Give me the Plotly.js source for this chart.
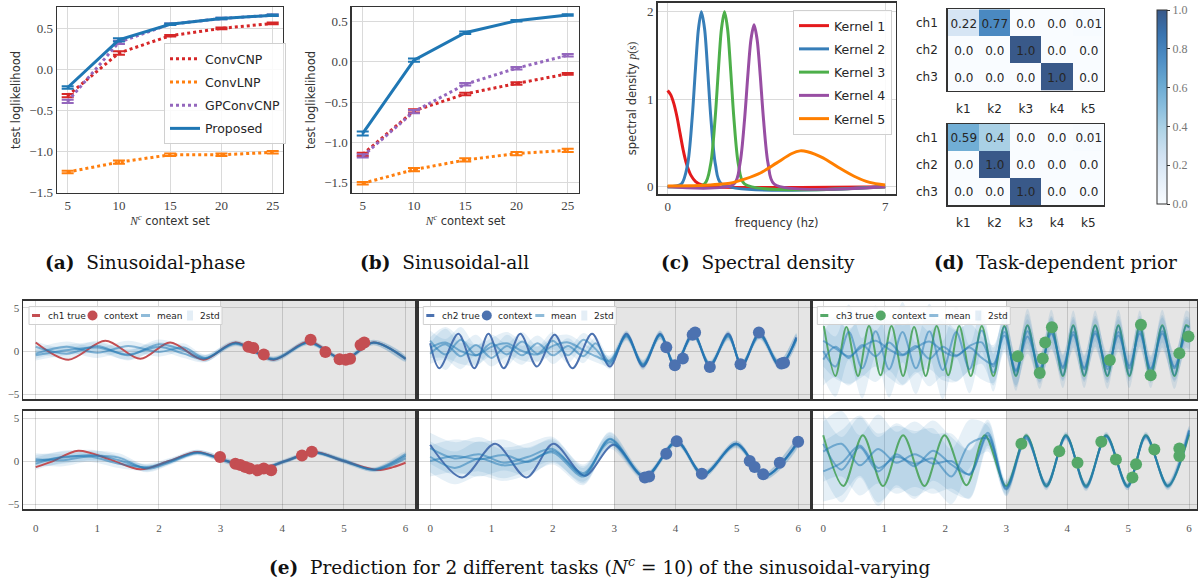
<!DOCTYPE html>
<html><head><meta charset="utf-8">
<script src="https://cdn.plot.ly/plotly-3.0.1.min.js"></script>
<style>html,body{margin:0;padding:0;background:#fff}#chart{width:1198px;height:579px}</style>
</head><body><div id="chart"></div>
<script>
// ================= DATA =================
// (a) Sinusoidal-phase and (b) Sinusoidal-all : test loglikelihood vs context size
const contextSizes = [5, 10, 15, 20, 25];
const methodNames = ['ConvCNP', 'ConvLNP', 'GPConvCNP', 'Proposed'];
const phaseConvCNP   = [-0.32, 0.20, 0.41, 0.50, 0.56];
const phaseConvLNP   = [-1.25, -1.13, -1.04, -1.04, -1.01];
const phaseGPConvCNP = [-0.39, 0.33, 0.55, 0.62, 0.66];
const phaseProposed  = [-0.22, 0.36, 0.55, 0.62, 0.66];
const phaseErrConvCNP   = [0.02, 0.02, 0.01, 0.01, 0.01];
const phaseErrConvLNP   = [0.015, 0.02, 0.015, 0.015, 0.015];
const phaseErrGPConvCNP = [0.02, 0.02, 0.01, 0.01, 0.01];
const phaseErrProposed  = [0.015, 0.02, 0.01, 0.01, 0.01];
const allConvCNP   = [-1.15, -0.61, -0.40, -0.27, -0.15];
const allConvLNP   = [-1.51, -1.34, -1.22, -1.14, -1.10];
const allGPConvCNP = [-1.17, -0.62, -0.28, -0.08, 0.08];
const allProposed  = [-0.89, 0.02, 0.36, 0.51, 0.58];
const allErrConvCNP   = [0.02, 0.02, 0.015, 0.015, 0.01];
const allErrConvLNP   = [0.015, 0.02, 0.02, 0.02, 0.02];
const allErrGPConvCNP = [0.02, 0.02, 0.015, 0.015, 0.015];
const allErrProposed  = [0.025, 0.02, 0.015, 0.01, 0.01];

// (c) Spectral density of the 5 kernels
const kernelNames = ['Kernel 1', 'Kernel 2', 'Kernel 3', 'Kernel 4', 'Kernel 5'];
const k1Freq = [0, 0.1, 0.2, 0.3, 0.4, 0.5, 0.6, 0.75, 0.9, 1.1, 1.4, 7];
const k1Dens = [1.10, 1.05, 0.95, 0.80, 0.61, 0.42, 0.27, 0.13, 0.06, 0.02, 0, 0];
const k2Freq = [0, 0.44, 0.64, 0.79, 0.89, 0.99, 1.085, 1.19, 1.29, 1.39, 1.54, 1.74, 7];
const k2Dens = [0, 0.03, 0.25, 0.79, 1.32, 1.80, 2.0, 1.80, 1.32, 0.79, 0.25, 0.03, 0];
const k3Freq = [0, 1.18, 1.38, 1.53, 1.63, 1.73, 1.83, 1.93, 2.03, 2.13, 2.28, 2.48, 7];
const k3Dens = [0, 0.03, 0.25, 0.79, 1.32, 1.80, 2.0, 1.80, 1.32, 0.79, 0.25, 0.03, 0];
const k4Freq = [0, 2.13, 2.33, 2.48, 2.58, 2.68, 2.78, 2.88, 2.98, 3.08, 3.23, 3.43, 7];
const k4Dens = [0, 0.03, 0.27, 0.79, 1.27, 1.68, 1.85, 1.68, 1.27, 0.79, 0.27, 0.03, 0];
const k5Freq = [0, 1, 2, 2.5, 3, 3.5, 4, 4.26, 4.5, 5, 5.5, 6, 6.5, 7];
const k5Dens = [0.01, 0.015, 0.04, 0.09, 0.16, 0.27, 0.38, 0.41, 0.40, 0.33, 0.22, 0.12, 0.05, 0.02];

// (d) Task-dependent prior (channel x kernel weights)
const channels = ['ch1', 'ch2', 'ch3'];
const kernels = ['k1', 'k2', 'k3', 'k4', 'k5'];
const priorTask1 = [[0.22, 0.77, 0.0, 0.0, 0.01], [0.0, 0.0, 1.0, 0.0, 0.0], [0.0, 0.0, 0.0, 1.0, 0.0]];
const priorTask2 = [[0.59, 0.4, 0.0, 0.0, 0.01], [0.0, 1.0, 0.0, 0.0, 0.0], [0.0, 0.0, 1.0, 0.0, 0.0]];

// (e) Predictions; context region starts at t = 3
const contextStart = 3;
const legendLabels = ['true', 'context', 'mean', '2std'];
// task 1, ch1
const t1c1TrueX = [0, 0.53, 1.13, 1.70, 2.18, 2.72, 3.24, 3.86, 4.43, 5.00, 5.48, 6.0];
const t1c1TrueY = [1.0, -1.0, 1.2, -0.9, 1.0, -1.0, 1.0, -1.0, 1.1, -1.0, 1.0, -0.9];
const t1c1CtxX = [3.45, 3.53, 3.70, 4.46, 4.70, 4.93, 5.03, 5.10, 5.27, 5.33];
const t1c1CtxY = [0.5, 0.35, -0.4, 1.3, -0.1, -0.95, -1.0, -0.9, 0.7, 1.0];
const t1c1MeanX = [0, 0.5, 1.0, 1.5, 2.0, 2.4, 2.75, 3.24, 3.86, 4.43, 5.0, 5.48, 6.0];
const t1c1Mean1 = [0.5, -0.3, 0.6, -0.5, 0.8, 0.1, -0.85, 0.9, -0.95, 1.0, -1.0, 1.0, -0.85];
const t1c1Mean2 = [-0.3, 0.5, -0.2, 0.6, -0.1, 0.4, -0.8, 0.95, -1.0, 1.0, -0.95, 1.0, -0.95];
const t1c1Mean3 = [-0.5, 0.1, 0.4, -0.4, 0.5, -0.3, -0.9, 0.85, -0.9, 1.05, -1.0, 0.95, -0.9];
const t1c1Std = [0.6, 0.6, 0.6, 0.6, 0.55, 0.5, 0.4, 0.3, 0.3, 0.3, 0.3, 0.3, 0.3];
// task 1, ch2
const t1c2TrueX = [0, 0.15, 0.46, 0.72, 0.95, 1.2, 1.47, 1.74, 2.03, 2.32, 2.64, 2.93, 3.2, 3.47, 3.75, 3.99, 4.29, 4.56, 4.86, 5.08, 5.37, 5.70, 5.97];
const t1c2TrueY = [0.9, -2.0, 2.0, -2.0, 2.0, -2.0, 2.0, -1.8, 1.9, -2.0, 2.0, -1.8, 2.0, -1.8, 2.0, -1.8, 2.1, -1.8, 2.0, -1.8, 2.1, -1.8, 1.6];
const t1c2CtxX = [3.85, 3.99, 4.12, 4.28, 4.32, 4.56, 5.06, 5.36, 5.73, 5.77];
const t1c2CtxY = [0.43, -1.64, -0.86, 1.88, 2.15, -1.84, -1.52, 2.15, -1.45, -1.37];
const t1c2MeanX = [0, 0.25, 0.5, 0.75, 1.0, 1.25, 1.5, 1.75, 2.0, 2.25, 2.5, 2.7, 2.93, 3.2, 3.47, 3.75, 3.99, 4.29, 4.56, 4.86, 5.08, 5.37, 5.70, 5.97];
const t1c2Mean1 = [1.2, -0.4, 1.3, -0.5, 0.9, -0.4, 1.1, -0.3, 1.2, -0.5, 1.3, 0.2, -1.5, 1.9, -1.7, 1.9, -1.7, 2.0, -1.7, 1.9, -1.7, 2.0, -1.7, 1.5];
const t1c2Mean2 = [-0.3, 0.8, -0.6, 0.7, -0.8, 0.6, -0.5, 0.9, -0.5, 0.6, -0.6, 0.9, -1.3, 1.8, -1.6, 1.9, -1.6, 2.0, -1.6, 1.8, -1.6, 1.9, -1.6, 1.4];
const t1c2Mean3 = [0.4, 1.0, 0.0, -0.5, 0.5, 0.9, 0.0, -0.4, 0.6, 1.0, 0.1, -0.6, -1.1, 1.7, -1.5, 1.8, -1.5, 1.9, -1.5, 1.7, -1.5, 1.8, -1.5, 1.3];
const t1c2Std = [1.2, 1.8, 1.5, 1.2, 1.0, 1.3, 1.1, 0.9, 1.0, 0.9, 0.8, 0.7, 0.6, 0.5, 0.5, 0.5, 0.4, 0.5, 0.4, 0.5, 0.4, 0.5, 0.5, 0.6];
// task 1, ch3
const t1c3TrueX = [0.01, 0.2, 0.38, 0.57, 0.75, 0.94, 1.12, 1.31, 1.49, 1.68, 1.86, 2.05, 2.23, 2.42, 2.6, 2.79, 2.97, 3.16, 3.35, 3.55, 3.74, 3.93, 4.1, 4.28, 4.46, 4.66, 4.84, 5.02, 5.19, 5.37, 5.56, 5.76, 5.95, 6.0];
const t1c3TrueY = [2.9, -2.9, 2.8, -2.9, 2.9, -2.8, 2.9, -2.9, 2.8, -2.9, 2.9, -2.8, 2.9, -2.9, 2.9, -2.9, 2.9, -2.9, 3.0, -2.9, 3.0, -2.9, 3.0, -2.9, 3.0, -2.9, 3.0, -2.9, 3.0, -2.9, 3.0, -2.9, 3.0, 2.8];
const t1c3CtxX = [3.19, 3.55, 3.60, 3.64, 3.75, 4.70, 5.21, 5.37, 5.84, 5.99];
const t1c3CtxY = [-0.59, -2.54, -0.86, 0.98, 2.77, -1.05, 3.05, -2.81, -0.27, 1.68];
const t1c3MeanX = [0, 0.2, 0.42, 0.64, 0.86, 1.08, 1.3, 1.52, 1.74, 1.96, 2.18, 2.4, 2.6, 2.79, 2.97, 3.16, 3.35, 3.55, 3.74, 3.93, 4.1, 4.28, 4.46, 4.66, 4.84, 5.02, 5.19, 5.37, 5.56, 5.76, 5.95, 6.0];
const t1c3Mean1 = [0.0, -1.8, 2.2, -2.0, 2.3, -2.1, 2.2, -2.0, 2.3, -2.2, 2.2, -2.1, 2.4, -2.5, 2.8, -2.8, 2.9, -2.8, 2.9, -2.8, 2.9, -2.8, 2.9, -2.8, 2.9, -2.8, 2.9, -2.8, 2.9, -2.8, 2.9, 2.7];
const t1c3Mean2 = [1.2, 0.3, -0.6, 0.5, 1.2, 0.2, -0.5, 0.4, 1.1, 0.0, -0.6, 0.6, 1.0, -1.8, 2.2, -2.4, 2.3, -2.2, 2.2, -2.0, 2.2, -2.1, 2.3, -2.1, 2.2, -2.0, 2.3, -2.2, 2.3, -2.0, 2.2, 2.0];
const t1c3Mean3 = [-1.0, 0.5, -0.8, 0.7, -0.6, 1.0, -0.4, 0.6, -0.9, 0.5, -0.5, 0.4, -0.8, -1.5, 1.8, -2.2, 1.7, -2.0, 2.0, -1.8, 1.9, -1.9, 2.0, -1.8, 1.8, -1.7, 2.0, -2.0, 2.0, -1.8, 1.9, 1.7];
const t1c3Std = [3.0, 3.5, 3.2, 3.5, 3.0, 3.3, 3.5, 3.0, 3.2, 3.4, 3.0, 2.8, 2.5, 2.2, 2.0, 1.8, 2.0, 1.6, 1.9, 1.5, 1.8, 1.5, 1.8, 1.6, 1.9, 1.5, 1.8, 1.5, 1.9, 1.6, 1.8, 1.8];
// task 2, ch1
const t2c1TrueX = [0, 0.25, 0.69, 1.2, 1.70, 2.16, 2.62, 3.1, 3.59, 4.05, 4.51, 5.0, 5.54, 5.8, 6.0];
const t2c1TrueY = [-0.7, -0.1, 1.2, 0.2, -0.96, 0.0, 1.04, 0.0, -1.04, 0.0, 1.04, 0.0, -1.04, -0.7, -0.2];
const t2c1CtxX = [2.99, 3.24, 3.32, 3.40, 3.47, 3.60, 3.70, 3.82, 4.32, 4.48];
const t2c1CtxY = [0.46, -0.31, -0.46, -0.69, -0.85, -1.08, -0.85, -1.08, 0.65, 1.08];
const t2c1MeanX = [0, 0.45, 0.9, 1.35, 1.8, 2.2, 2.62, 3.1, 3.59, 4.05, 4.51, 5.0, 5.5, 6.0];
const t2c1Mean1 = [0.0, 0.4, 0.7, 0.1, -0.8, 0.0, 1.0, 0.0, -1.0, 0.0, 1.0, 0.0, -1.0, 0.6];
const t2c1Mean2 = [-0.3, 0.5, 0.5, -0.3, -0.7, 0.1, 1.0, 0.05, -1.0, -0.05, 1.0, 0.1, -1.05, 0.3];
const t2c1Mean3 = [0.2, 0.1, 0.6, 0.4, -0.9, -0.1, 0.95, -0.05, -1.0, 0.05, 1.0, -0.05, -0.95, 0.8];
const t2c1Std = [0.7, 0.7, 0.6, 0.5, 0.4, 0.3, 0.3, 0.3, 0.25, 0.25, 0.25, 0.25, 0.25, 0.3];
// task 2, ch2
const t2c2TrueX = [0, 0.52, 1.06, 1.57, 2.01, 2.52, 2.99, 3.5, 4.02, 4.45, 4.99, 5.46, 6.0];
const t2c2TrueY = [1.9, -1.9, 2.0, -1.9, 2.0, -1.7, 1.9, -1.9, 2.3, -1.6, 2.0, -1.7, 2.3];
const t2c2CtxX = [3.50, 3.57, 3.85, 4.02, 4.43, 5.21, 5.29, 5.43, 5.70, 6.0];
const t2c2CtxY = [-1.92, -1.8, 0.85, 2.3, -1.46, 0.0, -0.69, -1.54, -0.19, 2.23];
const t2c2MeanX = [0, 0.4, 0.8, 1.2, 1.6, 2.0, 2.5, 2.93, 3.5, 4.02, 4.45, 4.99, 5.46, 6.0];
const t2c2Mean1 = [1.5, 0.3, 0.8, -0.2, 0.5, 1.4, -1.6, 2.5, -1.8, 2.2, -1.6, 2.0, -1.7, 2.2];
const t2c2Mean2 = [0.0, 0.6, 0.2, 0.7, -0.1, 1.2, -1.4, 2.2, -1.9, 2.3, -1.6, 2.0, -1.8, 2.3];
const t2c2Mean3 = [0.5, -0.8, 0.3, -0.5, 0.0, 1.0, -1.8, 2.6, -1.8, 2.2, -1.5, 1.9, -1.7, 2.1];
const t2c2Std = [1.8, 1.9, 2.0, 1.8, 1.6, 1.4, 1.0, 0.8, 0.4, 0.4, 0.4, 0.4, 0.4, 0.5];
// task 2, ch3
const t2c3TrueX = [0, 0.33, 0.65, 0.98, 1.31, 1.66, 1.99, 2.35, 2.65, 3.0, 3.33, 3.66, 3.98, 4.31, 4.64, 4.99, 5.29, 5.65, 6.0];
const t2c3TrueY = [3.0, -2.9, 3.0, -2.9, 3.0, -2.9, 3.0, -2.8, 3.0, -2.9, 3.0, -2.9, 3.0, -2.9, 3.0, -2.9, 3.0, -2.9, 3.1];
const t2c3CtxX = [3.25, 3.87, 4.17, 4.56, 4.80, 5.07, 5.13, 5.43, 5.84, 5.84];
const t2c3CtxY = [2.0, 1.15, -0.19, 2.23, 0.19, -1.92, -0.38, 1.35, 1.46, 0.58];
const t2c3MeanX = [0, 0.3, 0.6, 0.9, 1.2, 1.5, 1.8, 2.1, 2.4, 2.7, 3.0, 3.33, 3.66, 3.98, 4.31, 4.64, 4.99, 5.29, 5.65, 6.0];
const t2c3Mean1 = [2.0, -1.0, 1.6, -1.2, 0.8, -0.6, 1.2, -0.4, -1.5, 3.3, -3.2, 2.9, -3.0, 3.0, -3.1, 3.0, -3.0, 3.0, -3.0, 3.3];
const t2c3Mean2 = [1.1, 2.0, -0.5, 1.4, -0.2, 0.8, -0.3, 0.0, -1.6, 3.0, -3.0, 2.8, -2.9, 2.9, -3.0, 2.9, -3.0, 2.9, -2.9, 3.5];
const t2c3Mean3 = [-1.2, -0.2, 1.8, -0.8, 0.5, -0.3, 0.3, -1.8, 2.0, 2.6, -3.3, 2.6, -2.7, 2.8, -2.8, 2.8, -2.8, 2.8, -2.8, 3.6];
const t2c3Std = [3.5, 3.8, 3.5, 4.0, 3.6, 3.8, 3.5, 3.2, 2.8, 1.5, 0.8, 0.4, 0.4, 0.4, 0.4, 0.4, 0.4, 0.4, 0.4, 0.5];

// ================= STYLE / BUILD =================
const C = {ConvCNP: '#d62728', ConvLNP: '#ff7f0e', GPConvCNP: '#9467bd', Proposed: '#1f77b4'};
const kernelColors = ['#e41a1c', '#377eb8', '#4daf4a', '#984ea3', '#ff7f00'];
const chColors = {ch1: '#c44e52', ch2: '#4c72b0', ch3: '#55a868'};
const meanColor = 'rgba(31,119,180,0.5)';
const bandColor = 'rgba(31,119,180,0.11)';
const SERIF = 'Liberation Serif';
const SANS = 'DejaVu Sans';
const W = 1198, H = 579;
const px = p => p / W, py = p => 1 - p / H;
const traces = [];

function perfTraces(xa, ya, vals, errs, showLeg) {
  methodNames.forEach((m, i) => {
    traces.push({
      type: 'scatter', mode: 'lines', x: contextSizes, y: vals[i], name: m,
      xaxis: xa, yaxis: ya, legend: 'legend', showlegend: showLeg, legendgroup: 'g' + i,
      line: {color: C[m], width: 3, dash: m === 'Proposed' ? 'solid' : 'dot'},
      error_y: {type: 'data', array: errs[i], color: C[m], thickness: 2, width: 6}
    });
  });
}
perfTraces('x', 'y', [phaseConvCNP, phaseConvLNP, phaseGPConvCNP, phaseProposed],
  [phaseErrConvCNP, phaseErrConvLNP, phaseErrGPConvCNP, phaseErrProposed], true);
perfTraces('x2', 'y2', [allConvCNP, allConvLNP, allGPConvCNP, allProposed],
  [allErrConvCNP, allErrConvLNP, allErrGPConvCNP, allErrProposed], false);

const kFreq = [k1Freq, k2Freq, k3Freq, k4Freq, k5Freq];
const kDens = [k1Dens, k2Dens, k3Dens, k4Dens, k5Dens];
kernelNames.forEach((k, i) => {
  traces.push({type: 'scatter', mode: 'lines', x: kFreq[i], y: kDens[i], name: k,
    xaxis: 'x3', yaxis: 'y3', legend: 'legend2', legendgroup: 'k' + i,
    line: {color: kernelColors[i], width: 3, shape: 'spline', smoothing: 0.8}});
});

const cellText = z => z.map(r => r.map(v => Number.isInteger(v) ? v.toFixed(1) : String(v)));
[[priorTask1, 'x4', 'y4'], [priorTask2, 'x5', 'y5']].forEach(([z, xa, ya]) => {
  traces.push({type: 'heatmap', z: z, x: kernels, y: channels, xaxis: xa, yaxis: ya,
    coloraxis: 'coloraxis', text: cellText(z), texttemplate: '%{text}',
    textfont: {family: SANS, size: 12, color: '#262626'}, showlegend: false, xgap: 0, ygap: 0});
});

function addPanel(n, ch, trueX, trueY, ctxX, ctxY, meanX, means, sd) {
  const xa = 'x' + n, ya = 'y' + n, color = chColors[ch];
  means.forEach((m) => {
    const up = m.map((v, j) => v + sd[j]);
    const lo = m.map((v, j) => v - sd[j]);
    traces.push({type: 'scatter', mode: 'lines', x: meanX.concat(meanX.slice().reverse()),
      y: up.concat(lo.slice().reverse()), fill: 'toself', fillcolor: bandColor,
      line: {width: 0, shape: 'spline', smoothing: 0.9}, xaxis: xa, yaxis: ya, name: '2std',
      showlegend: false, hoverinfo: 'skip'});
  });
  traces.push({type: 'scatter', mode: 'lines', x: trueX, y: trueY, name: ch + ' true',
    line: {color: color, width: 2, shape: 'spline', smoothing: 0.9}, xaxis: xa, yaxis: ya, showlegend: false});
  means.forEach((m) => {
    traces.push({type: 'scatter', mode: 'lines', x: meanX, y: m, name: 'mean',
      line: {color: meanColor, width: 2, shape: 'spline', smoothing: 0.9},
      xaxis: xa, yaxis: ya, showlegend: false});
  });
  traces.push({type: 'scatter', mode: 'markers', x: ctxX, y: ctxY, name: 'context',
    marker: {color: color, size: 12}, xaxis: xa, yaxis: ya, showlegend: false});
}
addPanel(6, 'ch1', t1c1TrueX, t1c1TrueY, t1c1CtxX, t1c1CtxY, t1c1MeanX, [t1c1Mean1, t1c1Mean2, t1c1Mean3], t1c1Std);
addPanel(7, 'ch2', t1c2TrueX, t1c2TrueY, t1c2CtxX, t1c2CtxY, t1c2MeanX, [t1c2Mean1, t1c2Mean2, t1c2Mean3], t1c2Std);
addPanel(8, 'ch3', t1c3TrueX, t1c3TrueY, t1c3CtxX, t1c3CtxY, t1c3MeanX, [t1c3Mean1, t1c3Mean2, t1c3Mean3], t1c3Std);
addPanel(9, 'ch1', t2c1TrueX, t2c1TrueY, t2c1CtxX, t2c1CtxY, t2c1MeanX, [t2c1Mean1, t2c1Mean2, t2c1Mean3], t2c1Std);
addPanel(10, 'ch2', t2c2TrueX, t2c2TrueY, t2c2CtxX, t2c2CtxY, t2c2MeanX, [t2c2Mean1, t2c2Mean2, t2c2Mean3], t2c2Std);
addPanel(11, 'ch3', t2c3TrueX, t2c3TrueY, t2c3CtxX, t2c3CtxY, t2c3MeanX, [t2c3Mean1, t2c3Mean2, t2c3Mean3], t2c3Std);

// ================= LAYOUT =================
const serifTick = {family: SERIF, size: 13, color: '#444'};
const titleFont = {size: 11.5, family: SANS, color: '#333'};
function frame(extra) {
  return Object.assign({showline: true, mirror: true, linecolor: '#333', linewidth: 1.5,
    showgrid: true, gridcolor: '#dadada', gridwidth: 1, zeroline: false, ticks: '',
    tickfont: serifTick}, extra);
}
const ncTitle = '<span style="font-family:Liberation Serif"><i>N</i><sup><i>c</i></sup></span> context set';
const hmAxis = (extra) => Object.assign({showline: true, mirror: true, linecolor: '#333', linewidth: 1.5,
  showgrid: false, zeroline: false, ticks: '', tickfont: {family: SANS, size: 12, color: '#262626'},
  ticklabelstandoff: 6}, extra);

const cols = [[0.0195, 0.3483, [-0.2, 6.19]], [0.3483, 0.6775, [-0.21, 6.22]], [0.6775, 0.9992, [-0.19, 6.13]]];
const rows = [[0.3104, 0.4807], [0.1204, 0.2907]];

const layout = {
  width: W, height: H, margin: {l: 0, r: 0, t: 0, b: 0, autoexpand: false},
  paper_bgcolor: '#fff', plot_bgcolor: '#fff',
  font: {family: SANS, size: 12, color: '#262626'},
  xaxis: frame({domain: [0.0476, 0.2362], range: [3.96, 26.0], tickvals: contextSizes, anchor: 'y',
    title: {text: ncTitle, font: titleFont, standoff: 4}}),
  yaxis: frame({domain: [0.6667, 0.9879], range: [-1.505, 0.76], dtick: 0.5, tickformat: '.1f', anchor: 'x',
    title: {text: 'test loglikelihood', font: titleFont, standoff: 6}}),
  xaxis2: frame({domain: [0.2938, 0.4833], range: [3.95, 26.1], tickvals: contextSizes, anchor: 'y2',
    title: {text: ncTitle, font: titleFont, standoff: 4}}),
  yaxis2: frame({domain: [0.6667, 0.9879], range: [-1.63, 0.68], dtick: 0.5, tickformat: '.1f', anchor: 'x2',
    title: {text: 'test loglikelihood', font: titleFont, standoff: 6}}),
  xaxis3: frame({domain: [0.549, 0.7477], range: [-0.32, 7.34], tickvals: [0, 7], anchor: 'y3',
    title: {text: 'frequency (hz)', font: titleFont, standoff: 6}}),
  yaxis3: frame({domain: [0.6649, 0.9953], range: [-0.083, 2.103], tickvals: [0, 1, 2], anchor: 'x3',
    title: {text: 'spectral density <span style="font-family:Liberation Serif"><i>p</i>(<i>s</i>)</span>', font: titleFont, standoff: 8}}),
  xaxis4: hmAxis({domain: [0.7911, 0.9215], anchor: 'y4', type: 'category'}),
  yaxis4: hmAxis({domain: [0.8433, 0.9839], anchor: 'x4', type: 'category', autorange: 'reversed'}),
  xaxis5: hmAxis({domain: [0.7911, 0.9215], anchor: 'y5', type: 'category'}),
  yaxis5: hmAxis({domain: [0.6459, 0.7858], anchor: 'x5', type: 'category', autorange: 'reversed'}),
  coloraxis: {cmin: 0, cmax: 1, colorscale: [[0, 'rgb(249,252,255)'], [0.125, 'rgb(229,239,249)'], [0.25, 'rgb(209,226,242)'],
      [0.375, 'rgb(177,213,231)'], [0.5, 'rgb(137,190,222)'], [0.625, 'rgb(104,168,209)'], [0.75, 'rgb(77,141,196)'],
      [0.875, 'rgb(57,116,176)'], [1, 'rgb(57,89,137)']],
    colorbar: {x: px(1157), xanchor: 'left', y: py(107), yanchor: 'middle', len: 194 / H, lenmode: 'fraction',
      thickness: 10, outlinecolor: '#333', outlinewidth: 1, tickvals: [0, 0.2, 0.4, 0.6, 0.8, 1.0], tickformat: '.1f',
      ticks: 'outside', ticklen: 3, tickcolor: '#333', tickfont: {family: SERIF, size: 12, color: '#777'}, xpad: 0, ypad: 0}},
  legend: {x: px(164), y: py(43), xanchor: 'left', yanchor: 'top', bgcolor: 'rgba(255,255,255,0.85)',
    bordercolor: '#d0d0d0', borderwidth: 1, font: {family: SANS, size: 12.5, color: '#262626'},
    traceorder: 'grouped', tracegroupgap: 4},
  legend2: {x: px(793), y: py(10), xanchor: 'left', yanchor: 'top', bgcolor: 'rgba(255,255,255,0.85)',
    bordercolor: '#d0d0d0', borderwidth: 1, font: {family: SANS, size: 12.5, color: '#262626'},
    traceorder: 'grouped', tracegroupgap: 4},
  shapes: [], annotations: []
};
let n = 6;
rows.forEach((r, ri) => {
  cols.forEach((c, ci) => {
    layout['xaxis' + n] = {domain: [c[0], c[1]], range: c[2], anchor: 'y' + n, dtick: 1, tick0: 0,
      showline: true, mirror: true, linecolor: '#333', linewidth: 1.8, showgrid: true,
      gridcolor: 'rgba(0,0,0,0.15)', zeroline: false, ticks: '', showticklabels: ri === 1,
      tickfont: {family: SERIF, size: 11, color: '#555'}, ticklabelstandoff: 8};
    layout['yaxis' + n] = {domain: r, range: [-5.6, 5.85], anchor: 'x' + n, tickvals: [-5, 0, 5],
      showline: true, mirror: true, linecolor: '#333', linewidth: 1.8, showgrid: true,
      gridcolor: 'rgba(0,0,0,0.15)', zeroline: false, ticks: '', showticklabels: ci === 0,
      tickfont: {family: SERIF, size: 11, color: '#555'}};
    layout.shapes.push({type: 'rect', xref: 'x' + n, yref: 'y' + n + ' domain', x0: contextStart, x1: c[2][1],
      y0: 0, y1: 1, fillcolor: '#e5e5e5', line: {width: 0}, layer: 'below'});
    n++;
  });
});

// compact in-panel legends of the prediction panels (ch true / context / mean / 2std)
[[29, 'ch1'], [423.3, 'ch2'], [817.3, 'ch3']].forEach(([bx, ch]) => {
  const yc = 315.5, pp = {xref: 'paper', yref: 'paper'};
  layout.shapes.push(Object.assign({type: 'rect', x0: px(bx), x1: px(bx + 193), y0: py(324.5), y1: py(306.5),
    fillcolor: 'rgba(255,255,255,0.85)', line: {color: '#d0d0d0', width: 1}, layer: 'above'}, pp));
  layout.shapes.push(Object.assign({type: 'line', x0: px(bx + 3), x1: px(bx + 11), y0: py(yc), y1: py(yc),
    line: {color: chColors[ch], width: 3}}, pp));
  layout.shapes.push(Object.assign({type: 'circle', x0: px(bx + 58.5), x1: px(bx + 68.5), y0: py(yc + 5), y1: py(yc - 5),
    fillcolor: chColors[ch], line: {width: 0}}, pp));
  layout.shapes.push(Object.assign({type: 'line', x0: px(bx + 112), x1: px(bx + 121), y0: py(yc), y1: py(yc),
    line: {color: meanColor, width: 3}}, pp));
  layout.shapes.push(Object.assign({type: 'rect', x0: px(bx + 158), x1: px(bx + 164), y0: py(yc + 5), y1: py(yc - 5),
    fillcolor: 'rgba(31,119,180,0.12)', line: {width: 0}}, pp));
  const labels = [ch + ' ' + legendLabels[0], legendLabels[1], legendLabels[2], legendLabels[3]];
  [16.5, 72.5, 126, 168.5].forEach((dx, i) => {
    layout.annotations.push(Object.assign({text: labels[i], x: px(bx + dx), y: py(yc), xanchor: 'left', yanchor: 'middle',
      showarrow: false, font: {family: SANS, size: 9, color: '#262626'}}, pp));
  });
});

const capFont = {family: 'DejaVu Serif', size: 18.5, color: '#111'};
[['<b>(a)</b>  Sinusoidal-phase', 145], ['<b>(b)</b>  Sinusoidal-all', 444],
 ['<b>(c)</b>  Spectral density', 758], ['<b>(d)</b>  Task-dependent prior', 1055]].forEach(([t, x]) => {
  layout.annotations.push({text: t, x: px(x), y: py(262), xref: 'paper', yref: 'paper', showarrow: false,
    xanchor: 'center', yanchor: 'middle', font: capFont});
});
layout.annotations.push({text: '<b>(e)</b>  Prediction for 2 different tasks (<i>N</i><sup><i>c</i></sup> = 10) of the sinusoidal-varying',
  x: px(600), y: py(566), xref: 'paper', yref: 'paper', showarrow: false, xanchor: 'center', yanchor: 'middle', font: capFont});

Plotly.newPlot('chart', traces, layout, {displayModeBar: false, staticPlot: true});
</script></body></html>
